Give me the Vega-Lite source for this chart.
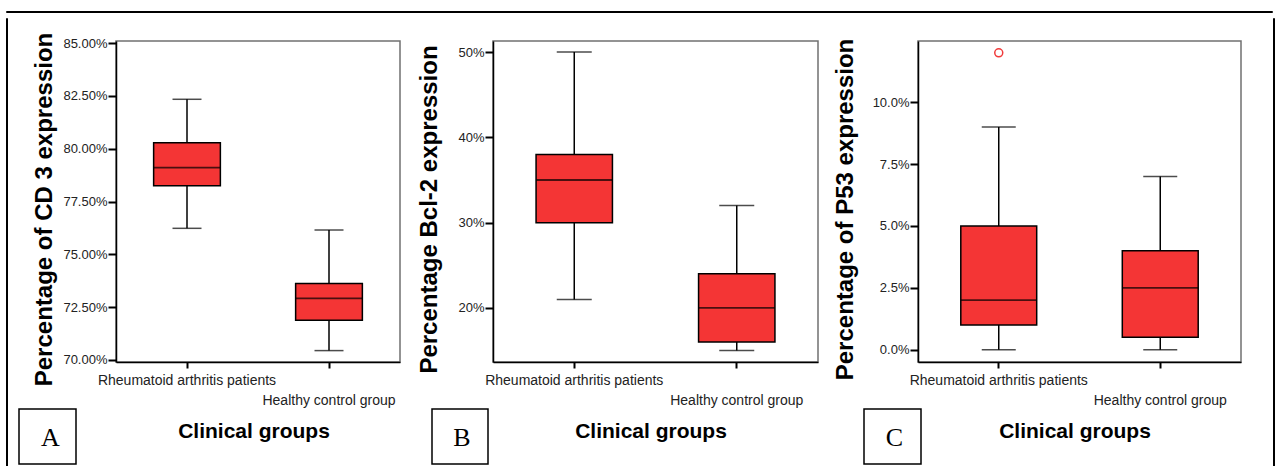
{
  "$schema": "https://vega.github.io/schema/vega-lite/v6.json",
  "background": "white",
  "padding": {"left": 5, "top": 5, "right": 0, "bottom": 0},
  "config": {
    "font": "Liberation Sans",
    "view": {"stroke": "#707070", "strokeWidth": 1.5},
    "axis": {"grid": false, "domainColor": "black", "domainWidth": 1.5, "tickColor": "black", "tickWidth": 2, "labelColor": "#222222", "labelFont": "Liberation Sans", "titleFont": "Liberation Sans", "titleFontWeight": "bold", "titleColor": "black"},
    "axisY": {"tickSize": 8, "labelPadding": 1, "labelFontSize": 13, "titleFontSize": 24, "titleY": 168},
    "axisX": {"tickSize": 6, "labelPadding": 5, "labelFontSize": 14, "labelLineHeight": 20, "labelAngle": 0, "labelOverlap": false, "labelLimit": 0}
  },
  "datasets": {
    "statsA": [
      {"group": "Rheumatoid arthritis patients", "lower": 76.23, "q1": 78.24, "median": 79.1, "q3": 80.28, "upper": 82.34},
      {"group": "Healthy control group", "lower": 70.44, "q1": 71.88, "median": 72.91, "q3": 73.62, "upper": 76.15}
    ],
    "statsB": [
      {"group": "Rheumatoid arthritis patients", "lower": 21, "q1": 30, "median": 35, "q3": 38, "upper": 50},
      {"group": "Healthy control group", "lower": 15, "q1": 16, "median": 20, "q3": 24, "upper": 32}
    ],
    "statsC": [
      {"group": "Rheumatoid arthritis patients", "lower": 0, "q1": 1, "median": 2, "q3": 5, "upper": 9},
      {"group": "Healthy control group", "lower": 0, "q1": 0.5, "median": 2.5, "q3": 4, "upper": 7}
    ],
    "outlierC": [
      {"group": "Rheumatoid arthritis patients", "value": 12}
    ]
  },
  "spacing": 0,
  "vconcat": [
    {"width": 1266, "height": 1, "view": {"stroke": "black", "strokeWidth": 1}, "data": {"values": [{}]}, "mark": "text", "encoding": {"text": {"value": ""}}},
    {
      "spacing": 0,
      "hconcat": [
        {"width": 1, "height": 460, "view": {"stroke": "black", "strokeWidth": 1}, "data": {"values": [{}]}, "mark": "text", "encoding": {"text": {"value": ""}}},
        {"width": 10, "height": 10, "view": {"stroke": null}, "data": {"values": [{}]}, "mark": "text", "encoding": {"text": {"value": ""}}},
        {
          "spacing": 0,
          "vconcat": [
            {"width": 10, "height": 12.5, "view": {"stroke": null}, "data": {"values": [{}]}, "mark": "text", "encoding": {"text": {"value": ""}}},
            {
              "spacing": 0,
              "hconcat": [
                {"width": 13, "height": 10, "view": {"stroke": null}, "data": {"values": [{}]}, "mark": "text", "encoding": {"text": {"value": ""}}},
                {
                  "width": 284, "height": 321,
                  "data": {"name": "statsA"},
                  "encoding": {
                    "x": {"field": "group", "type": "nominal", "sort": null, "scale": {"domain": ["Rheumatoid arthritis patients", "Healthy control group"], "paddingInner": 0, "paddingOuter": 0},
                      "axis": {"title": null, "labelExpr": "datum.value == 'Healthy control group' ? ['', datum.label] : datum.label"}}
                  },
                  "layer": [
                    {"mark": {"type": "rule", "color": "black", "strokeWidth": 1.5},
                     "encoding": {"y": {"field": "lower", "type": "quantitative", "title": "Percentage of CD 3 expression", "scale": {"domain": [69.9, 85.1], "nice": false, "zero": false},
                       "axis": {"values": [70, 72.5, 75, 77.5, 80, 82.5, 85], "titlePadding": 6, "labelExpr": "format(datum.value, '.2f') + '%'"}},
                       "y2": {"field": "upper"}}},
                    {"mark": {"type": "tick", "color": "black", "size": 29, "thickness": 1.5}, "encoding": {"y": {"field": "lower", "type": "quantitative", "title": "Percentage of CD 3 expression"}}},
                    {"mark": {"type": "tick", "color": "black", "size": 29, "thickness": 1.5}, "encoding": {"y": {"field": "upper", "type": "quantitative", "title": "Percentage of CD 3 expression"}}},
                    {"mark": {"type": "bar", "fill": "#f43535", "stroke": "black", "strokeWidth": 1.5, "width": {"band": 0.47}}, "encoding": {"y": {"field": "q1", "type": "quantitative", "title": "Percentage of CD 3 expression"}, "y2": {"field": "q3"}}},
                    {"mark": {"type": "tick", "color": "black", "size": 67, "thickness": 1.8}, "encoding": {"y": {"field": "median", "type": "quantitative", "title": "Percentage of CD 3 expression"}}}
                  ]
                },
                {"width": 16, "height": 10, "view": {"stroke": null}, "data": {"values": [{}]}, "mark": "text", "encoding": {"text": {"value": ""}}},
                {
                  "width": 325, "height": 321,
                  "data": {"name": "statsB"},
                  "encoding": {
                    "x": {"field": "group", "type": "nominal", "sort": null, "scale": {"domain": ["Rheumatoid arthritis patients", "Healthy control group"], "paddingInner": 0, "paddingOuter": 0},
                      "axis": {"title": null, "labelExpr": "datum.value == 'Healthy control group' ? ['', datum.label] : datum.label"}}
                  },
                  "layer": [
                    {"mark": {"type": "rule", "color": "black", "strokeWidth": 1.5},
                     "encoding": {"y": {"field": "lower", "type": "quantitative", "title": "Percentage Bcl-2 expression", "scale": {"domain": [13.66, 51.3], "nice": false, "zero": false},
                       "axis": {"values": [20, 30, 40, 50], "titlePadding": 16, "labelExpr": "format(datum.value, '.0f') + '%'"}},
                       "y2": {"field": "upper"}}},
                    {"mark": {"type": "tick", "color": "black", "size": 35, "thickness": 1.5}, "encoding": {"y": {"field": "lower", "type": "quantitative", "title": "Percentage Bcl-2 expression"}}},
                    {"mark": {"type": "tick", "color": "black", "size": 35, "thickness": 1.5}, "encoding": {"y": {"field": "upper", "type": "quantitative", "title": "Percentage Bcl-2 expression"}}},
                    {"mark": {"type": "bar", "fill": "#f43535", "stroke": "black", "strokeWidth": 1.5, "width": {"band": 0.47}}, "encoding": {"y": {"field": "q1", "type": "quantitative", "title": "Percentage Bcl-2 expression"}, "y2": {"field": "q3"}}},
                    {"mark": {"type": "tick", "color": "black", "size": 76, "thickness": 1.8}, "encoding": {"y": {"field": "median", "type": "quantitative", "title": "Percentage Bcl-2 expression"}}}
                  ]
                },
                {"width": 13, "height": 10, "view": {"stroke": null}, "data": {"values": [{}]}, "mark": "text", "encoding": {"text": {"value": ""}}},
                {
                  "width": 323, "height": 321,
                  "encoding": {
                    "x": {"field": "group", "type": "nominal", "sort": null, "scale": {"domain": ["Rheumatoid arthritis patients", "Healthy control group"], "paddingInner": 0, "paddingOuter": 0},
                      "axis": {"title": null, "labelExpr": "datum.value == 'Healthy control group' ? ['', datum.label] : datum.label"}}
                  },
                  "layer": [
                    {"data": {"name": "statsC"}, "mark": {"type": "rule", "color": "black", "strokeWidth": 1.5},
                     "encoding": {"y": {"field": "lower", "type": "quantitative", "title": "Percentage of P53 expression", "scale": {"domain": [-0.5, 12.48], "nice": false, "zero": false},
                       "axis": {"values": [0, 2.5, 5, 7.5, 10], "titlePadding": 15, "labelExpr": "format(datum.value, '.1f') + '%'"}},
                       "y2": {"field": "upper"}}},
                    {"data": {"name": "statsC"}, "mark": {"type": "tick", "color": "black", "size": 34, "thickness": 1.5}, "encoding": {"y": {"field": "lower", "type": "quantitative", "title": "Percentage of P53 expression"}}},
                    {"data": {"name": "statsC"}, "mark": {"type": "tick", "color": "black", "size": 34, "thickness": 1.5}, "encoding": {"y": {"field": "upper", "type": "quantitative", "title": "Percentage of P53 expression"}}},
                    {"data": {"name": "statsC"}, "mark": {"type": "bar", "fill": "#f43535", "stroke": "black", "strokeWidth": 1.5, "width": {"band": 0.47}}, "encoding": {"y": {"field": "q1", "type": "quantitative", "title": "Percentage of P53 expression"}, "y2": {"field": "q3"}}},
                    {"data": {"name": "statsC"}, "mark": {"type": "tick", "color": "black", "size": 76, "thickness": 1.8}, "encoding": {"y": {"field": "median", "type": "quantitative", "title": "Percentage of P53 expression"}}},
                    {"data": {"name": "outlierC"}, "mark": {"type": "point", "shape": "circle", "filled": false, "color": "#f03a3a", "size": 64, "strokeWidth": 1.5, "opacity": 1}, "encoding": {"y": {"field": "value", "type": "quantitative", "title": "Percentage of P53 expression"}}}
                  ]
                }
              ]
            },
            {
              "spacing": 0,
              "hconcat": [
                {"width": 57, "height": 55, "view": {"stroke": "black", "strokeWidth": 1.5}, "data": {"values": [{"letter": "A"}]}, "mark": {"type": "text", "font": "Liberation Serif", "fontSize": 26, "color": "black", "dx": 3, "dy": 1}, "encoding": {"text": {"field": "letter"}}},
                {"width": 354, "height": 45, "view": {"stroke": null}, "data": {"values": [{"t": "Clinical groups"}]}, "mark": {"type": "text", "fontSize": 21, "fontWeight": "bold", "color": "black"}, "encoding": {"text": {"field": "t"}}},
                {"width": 56, "height": 55, "view": {"stroke": "black", "strokeWidth": 1.5}, "data": {"values": [{"letter": "B"}]}, "mark": {"type": "text", "font": "Liberation Serif", "fontSize": 26, "color": "black", "dx": 2, "dy": 1}, "encoding": {"text": {"field": "letter"}}},
                {"width": 324, "height": 45, "view": {"stroke": null}, "data": {"values": [{"t": "Clinical groups"}]}, "mark": {"type": "text", "fontSize": 21, "fontWeight": "bold", "color": "black"}, "encoding": {"text": {"field": "t"}}},
                {"width": 50, "height": 10, "view": {"stroke": null}, "data": {"values": [{}]}, "mark": "text", "encoding": {"text": {"value": ""}}},
                {"width": 57, "height": 55, "view": {"stroke": "black", "strokeWidth": 1.5}, "data": {"values": [{"letter": "C"}]}, "mark": {"type": "text", "font": "Liberation Serif", "fontSize": 26, "color": "black", "dx": 2, "dy": 1}, "encoding": {"text": {"field": "letter"}}},
                {"width": 306, "height": 45, "view": {"stroke": null}, "data": {"values": [{"t": "Clinical groups"}]}, "mark": {"type": "text", "fontSize": 21, "fontWeight": "bold", "color": "black"}, "encoding": {"text": {"field": "t"}}}
              ]
            }
          ]
        },
        {"width": 30, "height": 10, "view": {"stroke": null}, "data": {"values": [{}]}, "mark": "text", "encoding": {"text": {"value": ""}}},
        {"width": 1, "height": 460, "view": {"stroke": "black", "strokeWidth": 1}, "data": {"values": [{}]}, "mark": "text", "encoding": {"text": {"value": ""}}}
      ]
    }
  ]
}
